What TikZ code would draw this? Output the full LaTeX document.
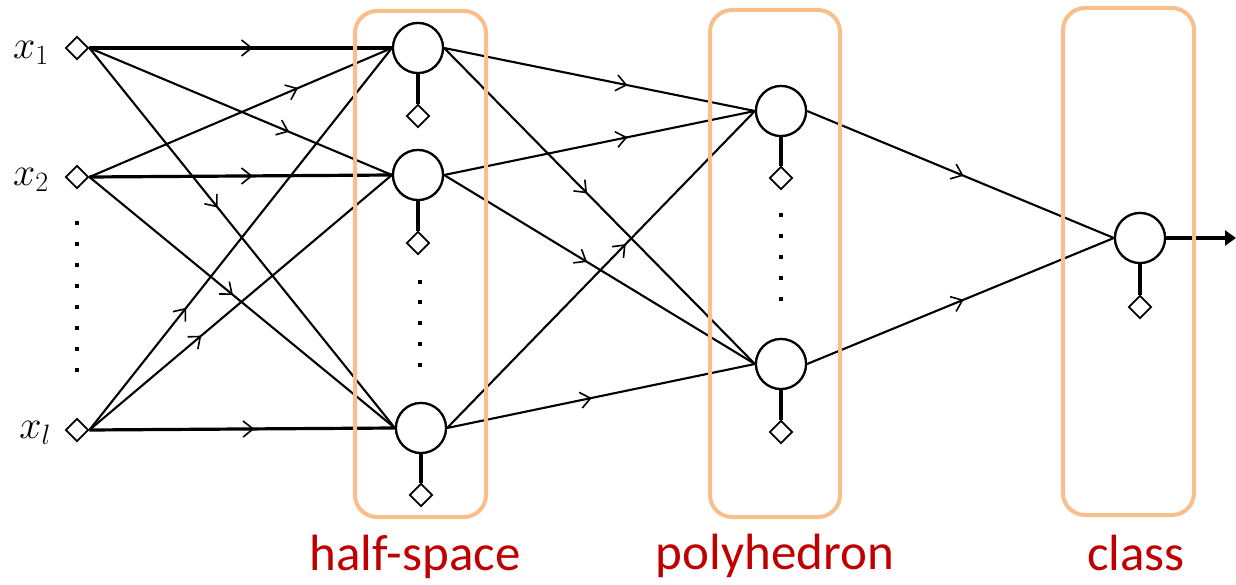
\RequirePackage{fix-cm}
\documentclass[tikz,border=0pt]{standalone}
\usepackage{fontspec}
\newfontfamily\capfont{Carlito}
\usetikzlibrary{arrows.meta,decorations.markings,shapes.geometric}
\definecolor{boxorange}{RGB}{248,190,140}
\definecolor{capred}{RGB}{192,0,0}
\tikzset{
  neuron/.style={circle,draw,line width=2.2pt,minimum size=50pt,inner sep=0pt,fill=white},
  port/.style={diamond,draw,line width=1.8pt,minimum width=23pt,minimum height=23pt,inner sep=0pt,fill=white},
  syn/.style={line width=2.1pt,postaction={decorate},
    decoration={markings,mark=at position #1 with {\arrow{Straight Barb[length=10pt,width=16pt,line width=1.6pt]}}}},
  synh/.style={syn=#1,line width=3.2pt},
  stub/.style={line width=3.2pt},
  layerbox/.style={draw=boxorange,line width=4pt,rounded corners=22pt},
  caption/.style={text=capred,font=\capfont\fontsize{51}{60}\selectfont,anchor=base,inner sep=0pt},
  inlabel/.style={font=\fontsize{40}{44}\selectfont,anchor=base east,inner sep=0pt}
}
\begin{document}
\begin{tikzpicture}[x=1pt,y=-1pt]
\useasboundingbox (0,0) rectangle (1236,585);

% input ports
\node[port] (in1) at (77,48) {};
\node[port] (in2) at (77,177) {};
\node[port] (inl) at (77,430) {};
\node[inlabel] (lx1) at (49,59) {$x_1$};
\node[inlabel] (lx2) at (49,186) {$x_2$};
\node[inlabel] (lxl) at (51,438) {$x_l$};

% hidden layer (half-spaces)
\node[neuron] (h1) at (418,48) {};
\node[neuron] (h2) at (418,175) {};
\node[neuron] (hl) at (421,428) {};
\node[port] (b1) at (418,116) {};
\node[port] (b2) at (418,243) {};
\node[port] (bl) at (421,495) {};

% second layer (polyhedra)
\node[neuron] (p1) at (781,111) {};
\node[neuron] (pm) at (781,364) {};
\node[port] (c1) at (781,178) {};
\node[port] (cm) at (781,432) {};

% output (class)
\node[neuron] (out) at (1140,238) {};
\node[port] (bo) at (1140,307) {};
\coordinate (res) at (1236,238);

% input -> hidden connections
\draw[synh=0.54] (in1.east) -- (h1.west);
\draw[syn=0.66] (in1.east) -- (h2.west);
\draw[syn=0.42] (in1.east) -- (hl.west);
\draw[syn=0.69] (in2.east) -- (h1.west);
\draw[synh=0.54] (in2.east) -- (h2.west);
\draw[syn=0.47] (in2.east) -- (hl.west);
\draw[syn=0.32] (inl.east) -- (h1.west);
\draw[syn=0.37] (inl.east) -- (h2.west);
\draw[synh=0.54] (inl.east) -- (hl.west);

% hidden -> polyhedron connections
\draw[syn=0.59] (h1.east) -- (p1.west);
\draw[syn=0.46] (h1.east) -- (pm.west);
\draw[syn=0.59] (h2.east) -- (p1.west);
\draw[syn=0.46] (h2.east) -- (pm.west);
\draw[syn=0.58] (hl.east) -- (p1.west);
\draw[syn=0.47] (hl.east) -- (pm.west);

% polyhedron -> class connections
\draw[syn=0.51] (p1.east) -- (out.west);
\draw[syn=0.51] (pm.east) -- (out.west);
\draw[line width=3.2pt,-{Triangle[length=11pt,width=15pt]}] (out.east) -- (res);

% redraw units on top of the wires
\foreach \n in {h1,h2,hl,p1,pm,out} \node[neuron] at (\n) {};

% bias stubs
\draw[stub] (h1.south) -- (b1.north);
\draw[stub] (h2.south) -- (b2.north);
\draw[stub] (hl.south) -- (bl.north);
\draw[stub] (p1.south) -- (c1.north);
\draw[stub] (pm.south) -- (cm.north);
\draw[stub] (out.south) -- (bo.north);

% vertical ellipses
\foreach \y in {223,244,265,286,307,328,349,370}
  \fill (75,\y-2) rectangle ++(4.2,4.2);
\foreach \y in {282,302,323,344,365}
  \fill (418,\y-2) rectangle ++(4.2,4.2);
\foreach \y in {215,236,257,278,299}
  \fill (779,\y-2) rectangle ++(4.2,4.2);

% layer frames
\draw[layerbox] (355,11) rectangle (486,517);
\draw[layerbox] (710,10) rectangle (840,517);
\draw[layerbox] (1063,8) rectangle (1194,515);

% captions
\node[caption] (t1) at (415,570) {half-space};
\node[caption] (t2) at (775,569) {polyhedron};
\node[caption] (t3) at (1136,570) {class};
\end{tikzpicture}
\end{document}
